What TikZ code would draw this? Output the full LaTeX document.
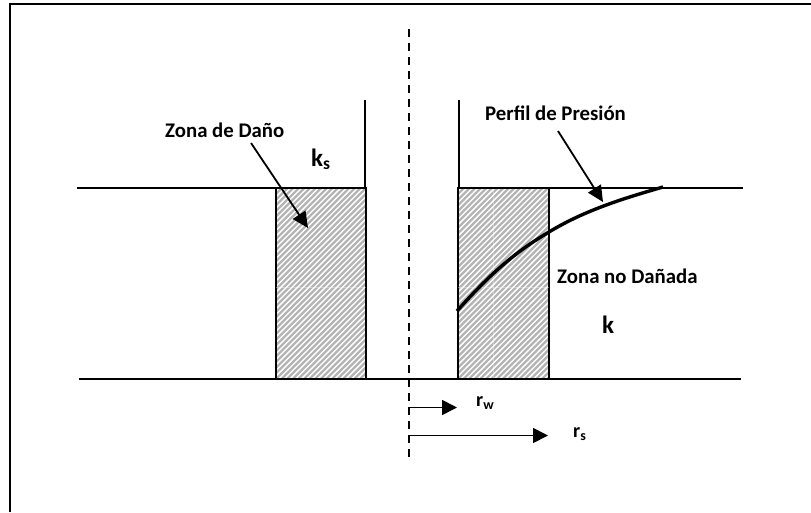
\documentclass[tikz,border=0pt]{standalone}
\usepackage{fontspec}
\setmainfont{Carlito}
\usetikzlibrary{arrows.meta,calc}
\definecolor{hatchgray}{HTML}{B4B4B4}
\tikzset{
  wall/.style={line width=2pt,black},
  hatchbox/.style={draw=black,line width=2pt,inner sep=0pt,outer sep=0pt,minimum width=#1,minimum height=191pt,
    path picture={
      \foreach \i in {-40,...,40}{
        \draw[hatchgray,line width=2.3pt]
          ([shift={(\i*5.6pt-120pt,-120pt)}]path picture bounding box.center) --
          ([shift={(\i*5.6pt+120pt,120pt)}]path picture bounding box.center);
      }
    }},
  seam/.style={white,line width=0.5pt,opacity=.35},
  pointer/.style={line width=1.8pt,-{Triangle[length=16pt,width=15pt]}},
  radius/.style={line width=1.8pt,-{Triangle[length=15pt,width=15pt]}},
  lab/.style={font=\bfseries\fontsize{20.8}{22}\selectfont,inner sep=0pt,anchor=base west},
  biglab/.style={font=\bfseries\fontsize{25}{27}\selectfont,inner sep=0pt,anchor=base west},
  sublab/.style={font=\bfseries\fontsize{20}{22}\selectfont,inner sep=0pt,anchor=base west}
}
\begin{document}
\begin{tikzpicture}[x=1pt,y=-1pt]
\useasboundingbox (0,0) rectangle (811,512);
% frame
\coordinate (fbl) at (9.5,512);
\coordinate (ftl) at (9.5,3.5);
\coordinate (ftr) at (811,3.5);
\draw[line width=2pt] (fbl) -- (ftl) -- (ftr);
% damaged zones
\node[hatchbox=90pt] (zl) at (321,283.5) {};
\node[hatchbox=91pt] (zr) at (503,283.5) {};
\draw[seam] (zl.west |- 0,287) -- (zl.east |- 0,287);
\draw[seam] (zr.west |- 0,287) -- (zr.east |- 0,287);
\draw[seam] (493,189) -- (493,378);
% horizons
\coordinate (hl1) at (77,188);
\coordinate (hr1) at (743,188);
\coordinate (hl2) at (79,379);
\coordinate (hr2) at (741,379);
\draw[wall] (hl1) -- (zl.north west);
\draw[wall] (zr.north east) -- (hr1);
\draw[wall] (hl2) -- (zl.south west);
\draw[wall] (zl.south east) -- (zr.south west);
\draw[wall] (zr.south east) -- (hr2);
% casing
\coordinate (cl) at (364.5,100);
\coordinate (cr) at (458.5,100);
\draw[wall] (cl) -- (cl |- zl.north);
\draw[wall] (cr) -- (cr |- zr.north);
% axis
\coordinate (at) at (409,29);
\coordinate (ab) at (409,458);
\draw[line width=1.8pt,dash pattern=on 8pt off 6pt] (at) -- (ab);
% pressure profile
\coordinate (p0) at (457,311);
\coordinate (p1) at (549,232);
\coordinate (p2) at (663,187);
\draw[line width=3.4pt] (p0) .. controls (490,274) and (515,252) .. (p1)
  .. controls (585,210) and (625,198) .. (p2);
% labels
\node[lab] (tzd) at (165,137) {Zona de Daño};
\node[lab] (tpp) at (485,120) {Perfil de Presión};
\node[lab] (tznd) at (557,283) {Zona no Dañada};
\node[biglab] (tks) at (311,166) {k\textsubscript{s}};
\node[biglab] (tk) at (602,333) {k};
\node[sublab] (trw) at (476,406) {r\textsubscript{w}};
\node[sublab] (trs) at (573,437) {r\textsubscript{s}};
% pointers
\coordinate (a1) at (251,143);
\coordinate (a2) at (308,228);
\coordinate (b1) at (558,131);
\coordinate (b2) at (603,202);
\draw[pointer] (a1) -- (a2);
\draw[pointer] (b1) -- (b2);
% radii
\coordinate (rw0) at (409,414);
\coordinate (rw1) at (457,407.5);
\coordinate (rs0) at (409,442);
\coordinate (rs1) at (548,435.5);
\draw[radius] (rw0) |- (rw1);
\draw[radius] (rs0) |- (rs1);
\end{tikzpicture}
\end{document}
